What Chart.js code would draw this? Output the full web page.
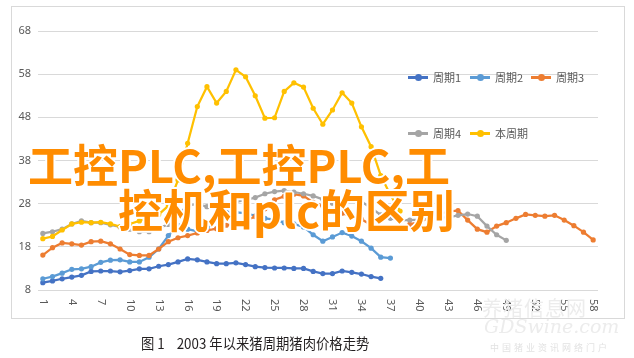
<!DOCTYPE html>
<html>
<head>
<meta charset="utf-8">
<script src="https://cdn.jsdelivr.net/npm/chart.js@4.4.0/dist/chart.umd.min.js"></script>
<style>
html,body{margin:0;padding:0;background:#fff;}
#wrap{position:relative;width:634px;height:358px;overflow:hidden;font-family:"Noto Sans CJK SC","Noto Sans",sans-serif;}
#frame{position:absolute;left:11px;top:6px;width:612px;height:311px;border:1px solid #d9d9d9;}
#c{position:absolute;left:0;top:0;}
.lgi{position:absolute;height:14px;display:flex;align-items:center;font-size:11px;color:#595959;white-space:nowrap;}
.sym{position:relative;width:20px;height:14px;margin-right:5px;}
.sym i{position:absolute;left:0;top:6px;width:20px;height:2.5px;}
.sym b{position:absolute;left:6.5px;top:4px;width:7px;height:7px;border-radius:50%;}
.big{position:absolute;font-family:"Noto Sans CJK SC",sans-serif;font-weight:700;font-size:45px;line-height:45px;color:#ff8c00;white-space:nowrap;
 text-shadow:1px 1px 0 #fff,-1px -1px 0 #fff,1px -1px 0 #fff,-1px 1px 0 #fff,2px 0 0 #fff,-2px 0 0 #fff,0 2px 0 #fff,0 -2px 0 #fff;}
#cap{position:absolute;left:141px;top:332px;font-size:14.5px;color:#231f20;white-space:nowrap;transform:scaleX(0.92);transform-origin:0 0;}
.wm{position:absolute;color:#ececec;white-space:nowrap;}
</style>
</head>
<body>
<div id="wrap">
  <div id="frame"></div>
  <canvas id="c" width="634" height="358"></canvas>
  <div id="legend"></div>
  <div class="wm" style="left:482px;top:293px;font-size:20px;letter-spacing:1px;">养猪信息网</div>
  <div class="wm" style="left:484px;top:315px;font-size:19px;font-family:'DejaVu Serif',serif;font-style:italic;">GDSwine.com</div>
  <div class="wm" style="left:490px;top:341px;font-size:9px;letter-spacing:3px;color:#e2e2e2;">中国猪业资讯网络门户</div>
  <div class="big" style="left:28px;top:141px;">工控PLC,工控PLC,工</div>
  <div class="big" style="left:118px;top:186px;">控机和plc的区别</div>
  <div id="cap">图 1&nbsp;&nbsp;&nbsp;&nbsp;2003 年以来猪周期猪肉价格走势</div>
</div>
<script>
// ---- data ----
const categories = ['1','2','3','4','5','6','7','8','9','10','11','12','13','14','15','16','17','18','19','20',
  '21','22','23','24','25','26','27','28','29','30','31','32','33','34','35','36','37','38','39','40',
  '41','42','43','44','45','46','47','48','49','50','51','52','53','54','55','56','57','58'];
const xTickLabels = ['1','4','7','10','13','16','19','22','25','28','31','34','37','40','43','46','49','52','55','58'];
const yTicks = [8,18,28,38,48,58,68];

const seriesNames = ['周期1','周期2','周期3','周期4','本周期'];
const seriesColors = ['#4472C4','#5B9BD5','#ED7D31','#A5A5A5','#FFC000'];

const cycle1 = [9.7,10.1,10.6,11.0,11.4,12.3,12.4,12.4,12.2,12.5,
  12.9,12.9,13.5,13.9,14.5,15.2,15.0,14.5,14.1,14.1,
  14.3,13.9,13.4,13.2,13.1,13.1,13.0,13.0,12.3,11.8,
  11.8,12.4,12.1,11.7,11.1,10.7];
const cycle2 = [10.6,11.1,11.9,12.8,12.9,13.4,14.4,14.9,15.0,14.5,
  14.5,15.6,17.5,20.6,22.9,22.1,21.6,22.3,24.3,26.0,
  26.0,25.8,25.2,24.6,24.3,23.6,23.3,22.6,20.8,19.3,
  20.3,21.3,20.5,19.3,17.7,15.6,15.4];
const cycle3 = [16.1,17.8,18.9,18.7,18.4,19.2,19.3,18.7,17.5,16.2,
  16.0,16.0,17.5,19.2,20.1,20.6,21.2,21.8,22.2,23.0,
  23.4,24.1,25.0,26.8,28.9,29.7,30.2,29.8,28.3,27.5,
  26.6,25.8,25.0,24.4,23.1,22.7,22.5,22.7,23.2,23.8,
  24.6,25.5,26.2,26.4,24.2,22.1,21.4,22.8,23.6,24.6,
  25.5,25.3,25.1,25.3,24.2,22.9,21.4,19.6];
const cycle4 = [21.1,21.5,22.1,23.3,24.0,23.6,23.6,23.1,22.6,22.1,
  21.5,21.5,22.3,23.2,25.4,27.6,27.9,27.3,26.8,27.4,
  28.4,28.9,29.4,30.3,30.8,31.0,30.7,30.3,29.8,29.0,
  28.1,28.5,28.9,28.5,27.0,25.4,24.6,24.2,24.2,24.3,
  24.8,24.8,24.8,25.3,25.6,25.1,22.8,20.8,19.5];
const current = [19.9,20.4,21.9,23.3,23.7,23.6,23.7,23.3,22.7,23.3,
  24.0,24.7,25.5,27.5,33.5,42.0,50.5,55.1,51.3,54.0,
  59.0,57.4,53.0,47.8,47.9,54.0,56.0,55.0,50.1,46.4,
  49.7,53.7,51.3,45.8,41.2,34.5,30.0,26.3];

const seriesData = [cycle1, cycle2, cycle3, cycle4, current];

// ---- legend (HTML) ----
const legendPos = [[408,70],[470,70],[531,70],[408,126],[470,126]];
const lg = document.getElementById('legend');
seriesNames.forEach((n,i)=>{
  const d = document.createElement('div');
  d.className='lgi';
  d.style.left = legendPos[i][0]+'px';
  d.style.top = legendPos[i][1]+'px';
  d.innerHTML = '<span class="sym"><i style="background:'+seriesColors[i]+'"></i><b style="background:'+seriesColors[i]+'"></b></span><span>'+n+'</span>';
  lg.appendChild(d);
});

// ---- x labels rotated clockwise, positioned by the category scale ----
const xLabelPlugin = {
  id:'xLabels',
  afterDraw(chart){
    const s = chart.scales.x, ctx = chart.ctx;
    ctx.save();
    ctx.fillStyle = '#595959';
    ctx.font = '11px "Noto Sans", sans-serif';
    ctx.textAlign = 'left';
    ctx.textBaseline = 'middle';
    xTickLabels.forEach(l=>{
      const x = s.getPixelForValue(categories.indexOf(l));
      ctx.save();
      ctx.translate(x, s.top + 9);
      ctx.rotate(Math.PI/2);
      ctx.fillText(l, 0, 0);
      ctx.restore();
    });
    ctx.restore();
  }
};

new Chart(document.getElementById('c'), {
  type:'line',
  data:{
    labels: categories,
    datasets: seriesData.map((d,i)=>({
      label: seriesNames[i],
      data: d,
      borderColor: seriesColors[i],
      backgroundColor: seriesColors[i],
      pointBackgroundColor: seriesColors[i],
      pointBorderColor: seriesColors[i],
      borderWidth: 2.25,
      pointRadius: 2.6,
      pointBorderWidth: 0,
      tension: 0,
      fill: false,
      order: seriesData.length - i
    }))
  },
  options:{
    responsive:false,
    animation:false,
    layout:{padding:{top:31,right:36,left:0,bottom:0}},
    plugins:{legend:{display:false},tooltip:{enabled:false}},
    scales:{
      x:{
        type:'category', offset:true,
        grid:{display:false}, border:{display:false},
        ticks:{display:false},
        afterFit:(s)=>{s.height=68;}
      },
      y:{
        min: yTicks[0], max: yTicks[yTicks.length-1],
        afterBuildTicks:(s)=>{s.ticks = yTicks.map(v=>({value:v}));},
        ticks:{color:'#595959', font:{size:11, family:'"Noto Sans", sans-serif'}, padding:7},
        grid:{color:'#d9d9d9', drawTicks:false, lineWidth:1},
        border:{display:false},
        afterFit:(s)=>{s.width=38;}
      }
    }
  },
  plugins:[xLabelPlugin]
});
</script>
</body>
</html>
